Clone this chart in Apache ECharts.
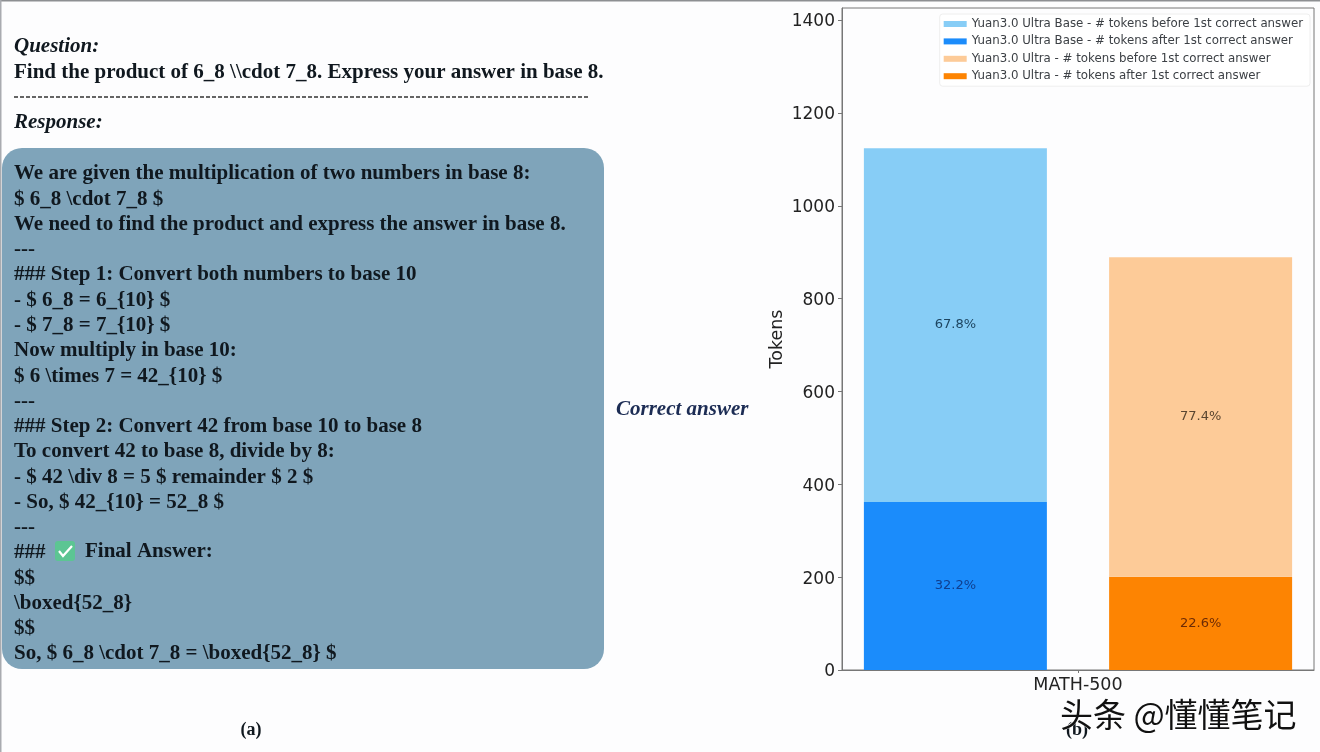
<!DOCTYPE html>
<html><head><meta charset="utf-8">
<style>html,body{margin:0;padding:0;background:#fff}#c{width:1320px;height:752px}</style>
<script src="https://cdn.jsdelivr.net/npm/echarts@6/dist/echarts.min.js"></script>
</head><body><div id="c"></div>
<script>
const categories = ['MATH-500'];
const baseBefore = [762];
const baseAfter = [362];
const ultraBefore = [688];
const ultraAfter = [201];
const basePct = ['67.8%', '32.2%'];
const ultraPct = ['77.4%', '22.6%'];
const legendNames = [
  'Yuan3.0 Ultra Base - # tokens before 1st correct answer',
  'Yuan3.0 Ultra Base - # tokens after 1st correct answer',
  'Yuan3.0 Ultra - # tokens before 1st correct answer',
  'Yuan3.0 Ultra - # tokens after 1st correct answer'
];
const responseLines = [
  'We are given the multiplication of two numbers in base 8:',
  '$ 6_8 \\cdot 7_8 $',
  'We need to find the product and express the answer in base 8.',
  '---',
  '### Step 1: Convert both numbers to base 10',
  '- $ 6_8 = 6_{10} $',
  '- $ 7_8 = 7_{10} $',
  'Now multiply in base 10:',
  '$ 6 \\times 7 = 42_{10} $',
  '---',
  '### Step 2: Convert 42 from base 10 to base 8',
  'To convert 42 to base 8, divide by 8:',
  '- $ 42 \\div 8 = 5 $ remainder $ 2 $',
  '- So, $ 42_{10} = 52_8 $',
  '---',
  '###',
  '$$',
  '\\boxed{52_8}',
  '$$',
  'So, $ 6_8 \\cdot 7_8 = \\boxed{52_8} $'
];
const SERIF = '"Liberation Serif", serif';
const SANS = '"DejaVu Sans", sans-serif';
function txt(x, y, text, size, opts) {
  opts = opts || {};
  return { type: 'text', x, y, silent: true, z: opts.z || 10, style: {
    text, fill: opts.fill || '#10181f', align: opts.align || 'left', verticalAlign: 'middle',
    font: (opts.italic ? 'italic ' : '') + (opts.weight || 'bold') + ' ' + size + 'px ' + (opts.family || SERIF),
    stroke: opts.stroke, lineWidth: opts.lineWidth || 0
  }};
}
const graphics = [
  { type: 'rect', shape: { x: 0, y: 0, width: 1320, height: 1.5 }, style: { fill: '#8d8f92' }, silent: true },
  { type: 'rect', shape: { x: 0, y: 0, width: 1.5, height: 752 }, style: { fill: '#a9abb0' }, silent: true },
  { type: 'rect', shape: { x: 2, y: 148, width: 602, height: 521, r: 20 }, style: { fill: '#7fa4ba' }, silent: true },
  txt(14, 47, 'Question:', 21, { italic: true }),
  txt(14, 73, 'Find the product of 6_8 \\\\cdot 7_8. Express your answer in base 8.', 21),
  { type: 'line', shape: { x1: 14, y1: 97, x2: 589, y2: 97 }, style: { stroke: '#333', lineWidth: 1.5, lineDash: [4, 2] }, silent: true },
  txt(14, 123, 'Response:', 21, { italic: true }),
  txt(616, 410, 'Correct answer', 21, { italic: true, fill: '#1c2c54' }),
  txt(251, 730, '(a)', 18, { align: 'center' }),
  txt(1077, 730, '(b)', 18, { align: 'center' }),
  txt(1060, 714, '头条 @懂懂笔记', 33, { weight: 'normal', family: '"Noto Sans CJK SC"', fill: '#111', stroke: '#fff', lineWidth: 0.8, z: 20 })
];
responseLines.forEach((line, i) => graphics.push(txt(14, 174 + i * 25.26, line, 21)));
graphics.push(txt(85, 552, 'Final Answer:', 21));
graphics.push({ type: 'rect', shape: { x: 55, y: 541, width: 20, height: 20, r: 3 }, style: { fill: '#5cc593' }, silent: true, z: 10 });
graphics.push({ type: 'polyline', shape: { points: [[59, 551], [63, 556], [72, 546]] }, style: { stroke: '#fff', lineWidth: 2.2, fill: null }, silent: true, z: 11 });

const colors = ['#87cdf6', '#1b8cfb', '#fdcb98', '#fd8402'];
function barSeries(name, data, stack, color, pct, labelColor) {
  return { name, type: 'bar', stack, data, barWidth: 183, barGap: '34%',
    itemStyle: { color },
    label: { show: true, position: 'inside', formatter: pct, color: labelColor, fontFamily: SANS, fontSize: 13 } };
}
const chart = echarts.init(document.getElementById('c'), null, { renderer: 'canvas' });
chart.setOption({
  animation: false,
  backgroundColor: '#fdfdfe',
  grid: { left: 842, right: 6, top: 8, bottom: 82, show: true, borderColor: '#777', borderWidth: 1, backgroundColor: 'transparent' },
  legend: {
    orient: 'vertical', right: 10, top: 14, itemWidth: 23, itemHeight: 6, itemGap: 5.4,
    backgroundColor: 'rgba(255,255,255,0.8)', borderColor: '#eeeeee', borderWidth: 1, borderRadius: 3, padding: [4, 7, 4, 4],
    textStyle: { fontFamily: SANS, fontSize: 11.8, color: '#3c4045' }, icon: 'rect',
    data: legendNames
  },
  xAxis: { type: 'category', data: categories,
    axisLine: { lineStyle: { color: '#777' } }, axisTick: { show: true, alignWithLabel: true, length: 3, lineStyle: { color: '#777' } },
    axisLabel: { fontFamily: SANS, fontSize: 17.5, color: '#222', margin: 6 } },
  yAxis: { type: 'value', min: 0, max: 1426, interval: 200, name: 'Tokens', nameLocation: 'middle', nameGap: 56,
    nameTextStyle: { fontFamily: SANS, fontSize: 17.5, color: '#222' },
    splitLine: { show: false }, axisLine: { show: true, lineStyle: { color: '#777' } },
    axisTick: { show: true, length: 4, lineStyle: { color: '#777' } },
    axisLabel: { margin: 7, formatter: v => '{v|' + v + '}',
      rich: { v: { fontFamily: SANS, fontSize: 17, color: '#222', padding: [4, 0, 0, 0] } } } },
  series: [
    barSeries(legendNames[1], baseAfter, 'base', colors[1], basePct[1], '#0f3f8f'),
    barSeries(legendNames[0], baseBefore, 'base', colors[0], basePct[0], '#1d4560'),
    barSeries(legendNames[3], ultraAfter, 'ultra', colors[3], ultraPct[1], '#6d2b05'),
    barSeries(legendNames[2], ultraBefore, 'ultra', colors[2], ultraPct[0], '#5a4630')
  ],
  graphic: { elements: graphics }
});
</script></body></html>
